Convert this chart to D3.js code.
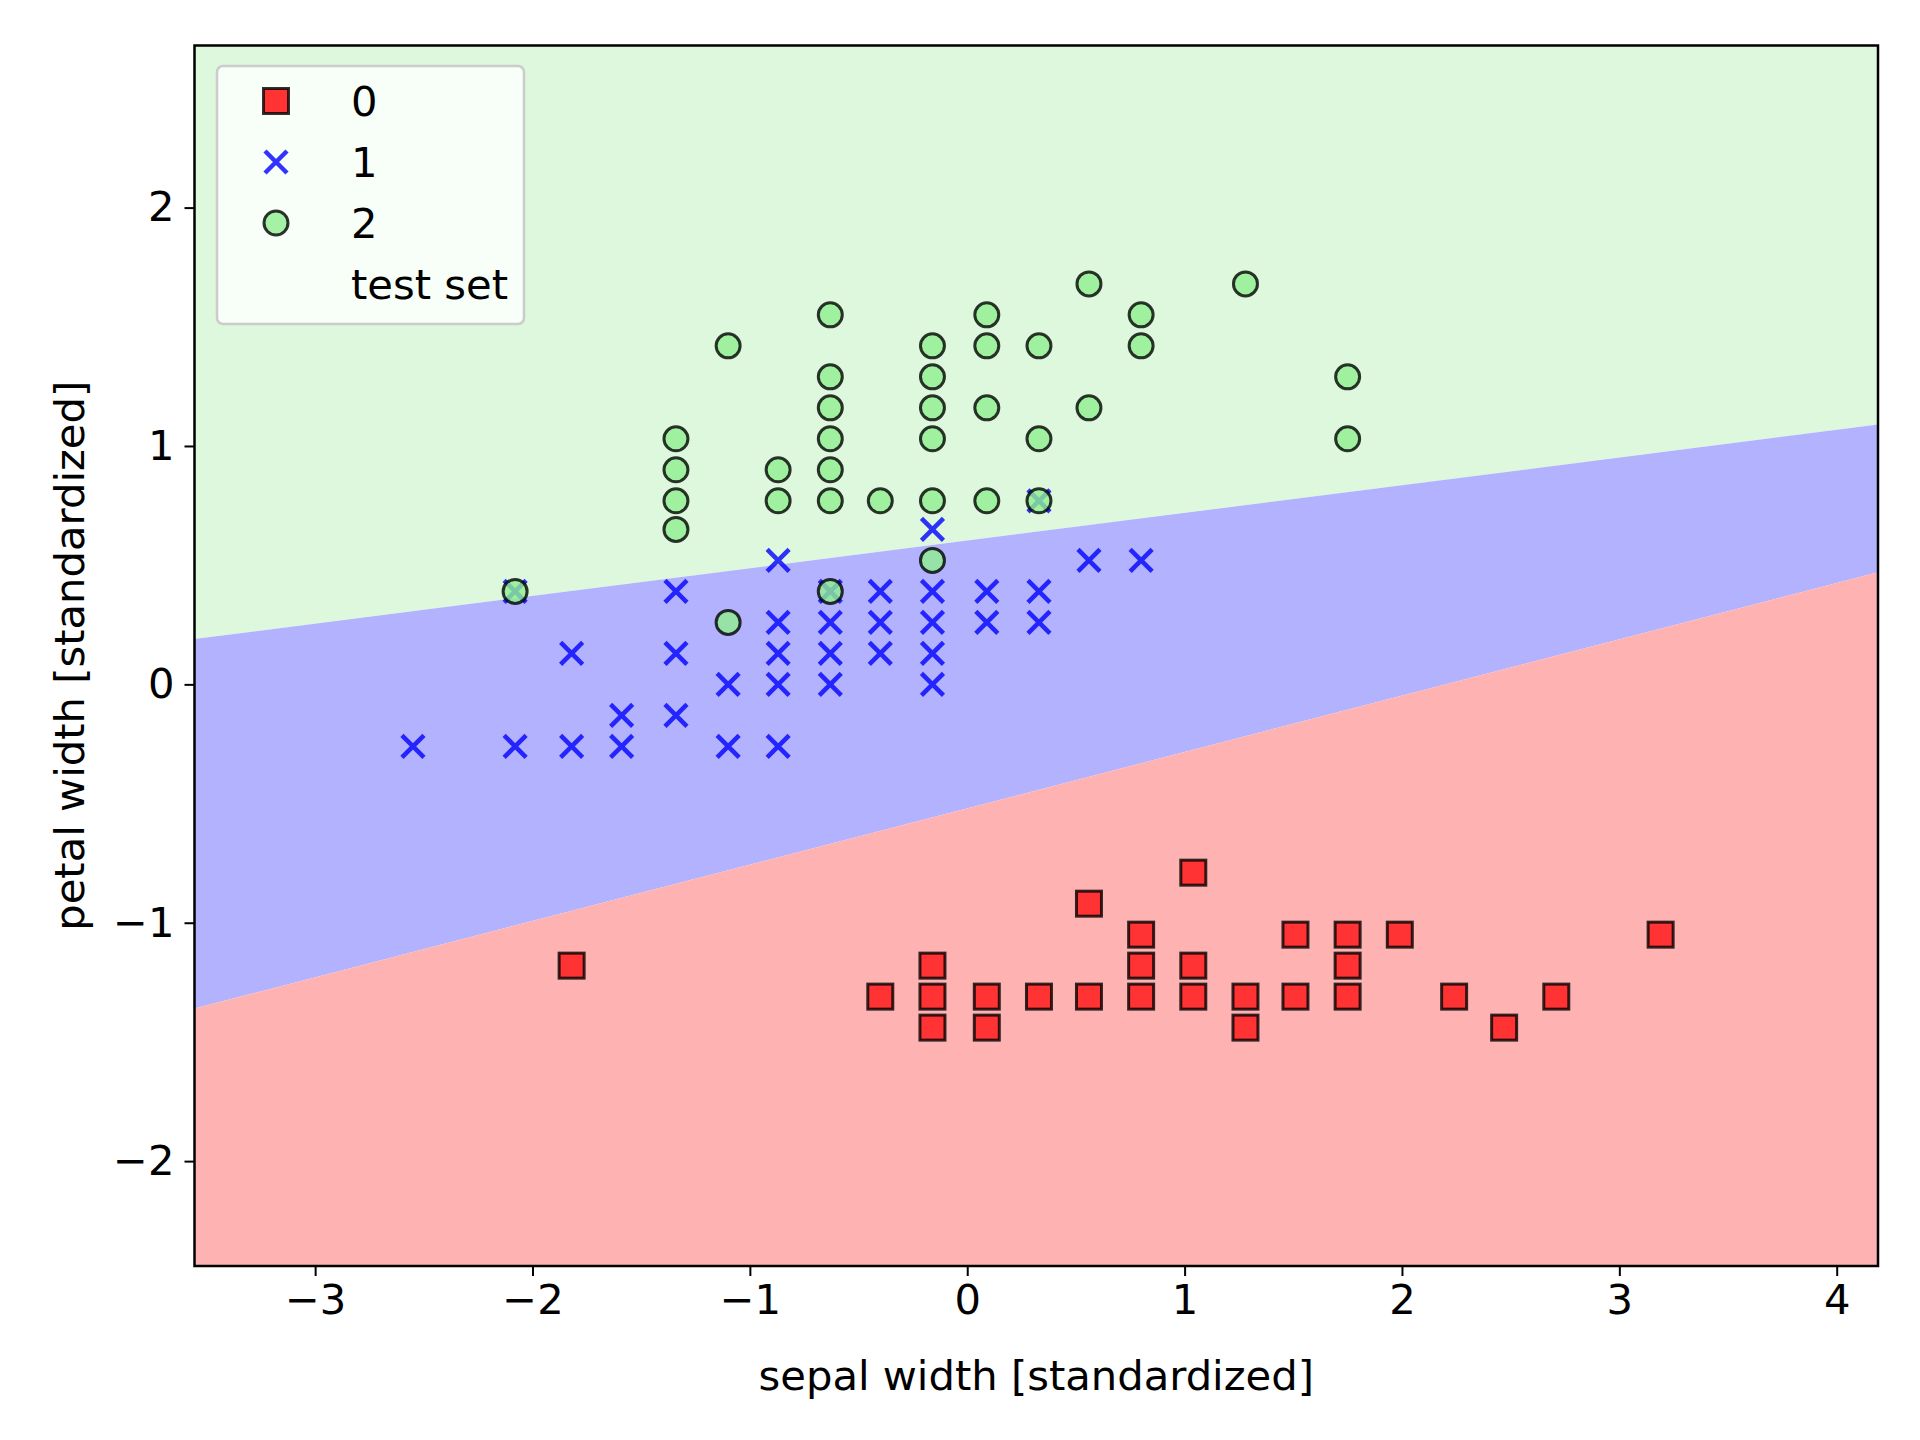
<!DOCTYPE html><html><head><meta charset="utf-8">
<script src="https://cdn.jsdelivr.net/npm/d3@7"></script>
<style>body{margin:0;background:#fff}text{font-family:"DejaVu Sans";}</style></head><body>
<svg id="c" width="1920" height="1440"></svg>
<script>
const xDomain=[-3.555,4.19], yDomain=[-2.44,2.68];
const xTicks=[-3,-2,-1,0,1,2,3,4], yTicks=[-2,-1,0,1,2];
// decision boundaries [x,y] at left/right edges
const boundGreenBlue=[[-3.555,0.19],[4.19,1.09]];
const boundBlueRed=[[-3.555,-1.36],[4.19,0.47]];
const class0=[[-1.82,-1.18],[0.56,-0.92],[1.04,-0.79],[-0.40,-1.31],[-0.16,-1.18],[-0.16,-1.31],[-0.16,-1.44],[0.09,-1.31],[0.09,-1.44],[0.33,-1.31],[0.56,-1.31],[0.80,-1.05],[0.80,-1.18],[0.80,-1.31],[1.04,-1.18],[1.04,-1.31],[1.28,-1.31],[1.28,-1.44],[1.51,-1.05],[1.51,-1.31],[1.75,-1.05],[1.75,-1.18],[1.75,-1.31],[1.99,-1.05],[2.24,-1.31],[2.47,-1.44],[2.71,-1.31],[3.19,-1.05]];
const class1=[[-2.55,-0.26],[-2.08,-0.26],[-2.08,0.39],[-1.82,-0.26],[-1.82,0.13],[-1.59,-0.13],[-1.59,-0.26],[-1.34,-0.13],[-1.34,0.13],[-1.34,0.39],[-1.10,0],[-1.10,-0.26],[-0.87,-0.26],[-0.87,0],[-0.87,0.13],[-0.87,0.26],[-0.87,0.52],[-0.63,0],[-0.63,0.13],[-0.63,0.26],[-0.63,0.39],[-0.40,0.13],[-0.40,0.26],[-0.40,0.39],[-0.16,0],[-0.16,0.13],[-0.16,0.26],[-0.16,0.39],[-0.16,0.65],[0.09,0.26],[0.09,0.39],[0.33,0.26],[0.33,0.39],[0.33,0.77],[0.56,0.52],[0.80,0.52]];
const class2=[[-2.08,0.39],[-1.34,0.65],[-1.34,0.77],[-1.34,0.90],[-1.34,1.03],[-1.10,0.26],[-1.10,1.42],[-0.87,0.77],[-0.87,0.90],[-0.63,0.39],[-0.63,0.77],[-0.63,0.90],[-0.63,1.03],[-0.63,1.16],[-0.63,1.29],[-0.63,1.55],[-0.40,0.77],[-0.16,0.52],[-0.16,0.77],[-0.16,1.03],[-0.16,1.16],[-0.16,1.29],[-0.16,1.42],[0.09,0.77],[0.09,1.16],[0.09,1.42],[0.09,1.55],[0.33,0.77],[0.33,1.03],[0.33,1.42],[0.56,1.16],[0.56,1.68],[0.80,1.42],[0.80,1.55],[1.28,1.68],[1.75,1.03],[1.75,1.29]];
const legendLabels=["0","1","2","test set"];

const L=194.5,R=1878,T=45.5,B=1266;
const svg=d3.select("#c");
const x=d3.scaleLinear().domain(xDomain).range([L,R]);
const y=d3.scaleLinear().domain(yDomain).range([B,T]);
const poly=pts=>"M"+pts.map(p=>x(p[0])+","+y(p[1])).join("L")+"Z";
const [g0,g1]=boundGreenBlue,[r0,r1]=boundBlueRed;
svg.append("path").attr("d",poly([[xDomain[0],yDomain[1]],[xDomain[1],yDomain[1]],g1,g0])).attr("fill","#ddf8dd");
svg.append("path").attr("d",poly([g0,g1,r1,r0])).attr("fill","#b2b2ff");
svg.append("path").attr("d",poly([r0,r1,[xDomain[1],yDomain[0]],[xDomain[0],yDomain[0]]])).attr("fill","#ffb2b2");

const sq=25, xs=11, cr=12;
function square(g,cx,cy){g.append("rect").attr("x",cx-sq/2).attr("y",cy-sq/2).attr("width",sq).attr("height",sq).attr("fill","#ff3333").attr("stroke","#000").attr("stroke-opacity",0.8).attr("stroke-width",3);}
function cross(g,cx,cy){g.append("path").attr("d",`M${cx-xs},${cy-xs}L${cx+xs},${cy+xs}M${cx-xs},${cy+xs}L${cx+xs},${cy-xs}`).attr("stroke","#0000ff").attr("stroke-opacity",0.8).attr("stroke-width",4.5);}
function circ(g,cx,cy){g.append("circle").attr("cx",cx).attr("cy",cy).attr("r",cr).attr("fill","#90ee90").attr("fill-opacity",0.8).attr("stroke","#000").attr("stroke-opacity",0.8).attr("stroke-width",3);}
const pg=svg.append("g");
class0.forEach(d=>square(pg,x(d[0]),y(d[1])));
class1.forEach(d=>cross(pg,x(d[0]),y(d[1])));
class2.forEach(d=>circ(pg,x(d[0]),y(d[1])));

svg.append("rect").attr("x",L).attr("y",T).attr("width",R-L).attr("height",B-T).attr("fill","none").attr("stroke","#000").attr("stroke-width",2.5);
const fs=41.7;
const fmt=d=>d<0?"\u2212"+(-d):d;
const xa=svg.append("g").attr("transform",`translate(0,${B})`).call(d3.axisBottom(x).tickValues(xTicks).tickSize(10).tickPadding(8).tickFormat(fmt));
const ya=svg.append("g").attr("transform",`translate(${L},0)`).call(d3.axisLeft(y).tickValues(yTicks).tickSize(10).tickPadding(10).tickFormat(fmt));
[xa,ya].forEach(a=>{a.select(".domain").remove();a.selectAll("line").attr("stroke-width",2);a.selectAll("text").attr("font-size",fs).attr("font-family","DejaVu Sans").attr("fill","#000");});
svg.append("text").attr("x",(L+R)/2).attr("y",1390).attr("text-anchor","middle").attr("font-size",fs).text("sepal width [standardized]");
svg.append("text").attr("transform",`translate(84,${(T+B)/2}) rotate(-90)`).attr("text-anchor","middle").attr("font-size",fs).text("petal width [standardized]");

const lg=svg.append("g");
lg.append("rect").attr("x",217).attr("y",66).attr("width",307).attr("height",258).attr("rx",6).attr("fill","#fff").attr("fill-opacity",0.8).attr("stroke","#ccc").attr("stroke-width",2.5);
const ly=[101,162,223,284];
square(lg,276,ly[0]);cross(lg,276,ly[1]);circ(lg,276,ly[2]);
legendLabels.forEach((t,i)=>lg.append("text").attr("x",351).attr("y",ly[i]+15).attr("font-size",fs).text(t));
</script></body></html>
